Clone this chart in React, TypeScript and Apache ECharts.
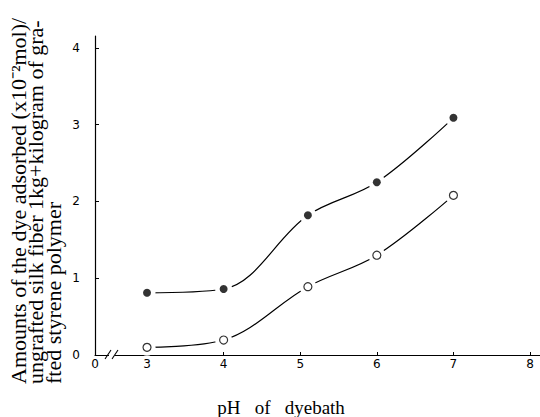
import React, { useEffect, useRef } from "react";
import * as echarts from "echarts";

const xValues = [3, 4, 5.1, 6, 7];
const filledValues = [0.81, 0.86, 1.82, 2.25, 3.09];
const openValues = [0.1, 0.195, 0.89, 1.3, 2.08];
const xTickValues = [3, 4, 5, 6, 7, 8];
const xBreakValue = 2.321;
const yTickValues = [0, 1, 2, 3, 4];
const yTitleLines = [
  "Amounts of the dye adsorbed (x10⁻²mol)/",
  "ungrafted silk fiber 1kg+kilogram of gra-",
  "fted styrene polymer",
];
const xTitle = "pH   of   dyebath";

export default function App() {
  const ref = useRef<HTMLDivElement>(null);
  useEffect(() => {
    if (!ref.current) return;
    const chart = echarts.init(ref.current, null, { renderer: "svg" });
    const pts = (ys: number[]) => xValues.map((x, i) => [x, ys[i]]);
    const serif = "Liberation Serif";
    const lineSeries = (ys: number[]) => ({
      type: "line",
      data: pts(ys),
      smooth: 0.35,
      symbol: "none",
      lineStyle: { color: "#000", width: 1.2 },
      z: 2,
    });
    const halo = (ys: number[]) => ({
      type: "scatter",
      data: pts(ys),
      symbolSize: 17,
      itemStyle: { color: "#fff", opacity: 1 },
      z: 3,
      silent: true,
    });
    chart.setOption({
      animation: false,
      backgroundColor: "#fff",
      grid: { left: 95, right: 0, top: 36, bottom: 62 },
      xAxis: {
        type: "value",
        min: xBreakValue,
        max: 8.13,
        splitLine: { show: false },
        axisLine: { show: true, lineStyle: { color: "#000", width: 1.2 } },
        axisTick: {
          show: true,
          inside: true,
          length: 3,
          customValues: xTickValues,
          lineStyle: { color: "#000", width: 1 },
        },
        axisLabel: {
          customValues: [xBreakValue, ...xTickValues],
          formatter: (v: number) => (v < 2.5 ? "0" : String(v)),
          showMinLabel: true,
          showMaxLabel: true,
          color: "#000",
          fontFamily: "DejaVu Sans",
          fontSize: 12,
          margin: 3,
        },
      },
      yAxis: {
        type: "value",
        min: 0,
        max: 4.156,
        splitLine: { show: false },
        axisLine: { show: true, lineStyle: { color: "#000", width: 1.2 } },
        axisTick: {
          show: true,
          inside: true,
          length: 4,
          customValues: yTickValues,
          lineStyle: { color: "#000", width: 1 },
        },
        axisLabel: {
          customValues: yTickValues,
          showMaxLabel: true,
          color: "#000",
          fontFamily: "DejaVu Sans",
          fontSize: 12,
          margin: 15,
        },
      },
      series: [
        lineSeries(filledValues),
        lineSeries(openValues),
        halo(filledValues),
        halo(openValues),
        {
          type: "scatter",
          data: pts(filledValues),
          symbol: "circle",
          symbolSize: 8,
          itemStyle: { color: "#000" },
          z: 4,
        },
        {
          type: "scatter",
          data: pts(openValues),
          symbol: "circle",
          symbolSize: 8,
          itemStyle: { color: "#fff", borderColor: "#000", borderWidth: 1.2 },
          z: 4,
        },
      ],
      graphic: [
        {
          type: "rect",
          shape: { x: 109, y: 351, width: 6, height: 7 },
          style: { fill: "#fff" },
          z: 10,
        },
        {
          type: "line",
          shape: { x1: 105, y1: 359, x2: 111, y2: 350 },
          style: { stroke: "#000", lineWidth: 1.1 },
          z: 11,
        },
        {
          type: "line",
          shape: { x1: 112, y1: 359, x2: 118, y2: 350 },
          style: { stroke: "#000", lineWidth: 1.1 },
          z: 11,
        },
        ...yTitleLines.map((t, i) => ({
          type: "text",
          x: [18, 35, 53][i],
          y: 384,
          rotation: Math.PI / 2,
          style: {
            text: t,
            fill: "#000",
            font: `22px "${serif}", serif`,
            textAlign: "left",
            textVerticalAlign: "middle",
          },
          z: 10,
        })),
        {
          type: "text",
          x: 281,
          y: 407,
          style: {
            text: xTitle,
            fill: "#000",
            font: `19px "${serif}", serif`,
            textAlign: "center",
            textVerticalAlign: "middle",
          },
          z: 10,
        },
      ],
    });
    return () => chart.dispose();
  }, []);
  return (
    <div
      ref={ref}
      style={{ position: "fixed", left: 0, top: 0, width: 540, height: 417 }}
    />
  );
}
